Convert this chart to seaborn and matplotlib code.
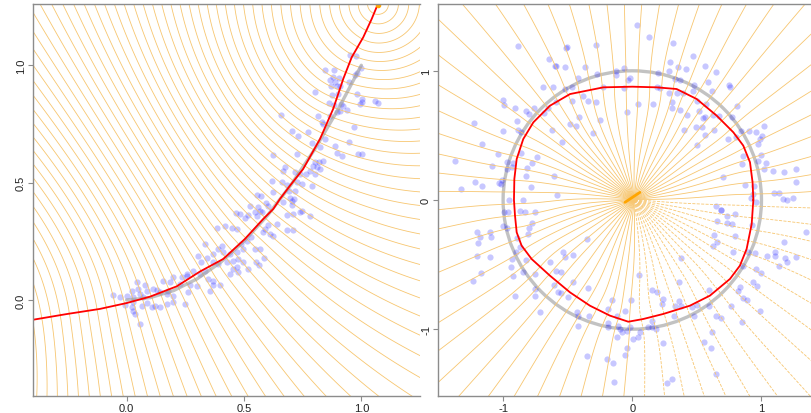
import numpy as np
import matplotlib
matplotlib.use("Agg")
import matplotlib.pyplot as plt
import seaborn as sns
from matplotlib.patches import Circle

# ---------------- LEFT PANEL DATA ----------------
left_x = [0.951,0.977,0.845,0.885,0.998,0.973,0.98,0.947,
          0.866,0.880,0.906,0.888,0.870,0.895,0.909,
          0.802,0.876,0.902,0.98,1.001,1.004,0.994,1.058,1.072,
          0.862,0.885,0.912,0.923,0.897,0.909,0.937,0.657,0.866,0.814,0.831,0.838,0.97,0.706,0.774,0.731,
          0.845,0.948,0.788,0.824,0.888,0.625,0.895,0.916,0.984,1.001,0.728,
          0.802,0.819,0.838,0.795,0.81,0.824,0.781,
          0.674,0.667,0.717,0.738,0.766,0.802,
          0.618,0.66,0.682,0.724,0.746,0.788,
          0.622,0.693,0.717,0.554,0.572,0.696,0.713,0.665,
          0.595,0.603,0.703,0.706,0.746,0.738,0.781,0.682,0.71,
          0.525,0.561,0.568,0.547,0.575,0.554,0.518,0.483,0.504,0.466,
          0.639,0.684,0.707,0.603,0.589,0.582,0.611,0.625,
          0.383,0.419,0.447,0.469,0.511,0.528,0.486,0.497,
          0.547,0.568,0.586,0.551,0.565,
          0.334,0.405,0.39,0.409,0.369,0.44,0.471,
          0.305,0.317,0.341,0.369,0.39,0.426,0.454,0.476,0.497,0.518,0.469,0.454,0.476,0.44,
          0.256,0.284,0.312,0.334,0.348,0.369,0.398,0.355,0.369,
          0.156,0.184,0.199,0.234,0.256,0.227,0.27,0.298,0.262,
          0.043,0.078,0.113,0.085,0.128,0.142,0.17,0.177,0.199,
          -0.057,-0.029,0.0,0.021,0.049,0.057,0.071,0.028,
          0.028,0.064,0.085,0.107,0.121,0.142,0.17,0.199,0.248,
          0.028,0.035,0.057,-0.007,0.021]
left_y = [1.044,1.038,0.98,0.98,0.988,0.959,0.967,0.93,
          0.937,0.951,0.946,0.930,0.911,0.911,0.913,
          0.885,0.875,0.878,0.878,0.856,0.842,0.835,0.849,0.839,
          0.839,0.831,0.834,0.828,0.802,0.807,0.811,0.788,0.785,0.785,0.757,0.75,0.736,0.721,0.717,0.697,
          0.686,0.672,0.669,0.651,0.657,0.619,0.625,0.612,0.621,0.622,0.622,
          0.589,0.587,0.593,0.572,0.565,0.558,0.551,
          0.565,0.551,0.547,0.537,0.537,0.537,
          0.508,0.501,0.49,0.504,0.494,0.487,
          0.461,0.463,0.466,0.447,0.444,0.433,0.43,0.416,
          0.413,0.402,0.423,0.405,0.381,0.374,0.357,0.362,0.366,
          0.399,0.395,0.381,0.376,0.374,0.357,0.362,0.366,0.348,0.369,
          0.324,0.3,0.3,0.32,0.303,0.288,0.281,0.274,
          0.305,0.314,0.305,0.303,0.253,0.267,0.239,0.217,
          0.217,0.217,0.178,0.161,0.15,
          0.239,0.231,0.217,0.203,0.196,0.196,0.203,
          0.186,0.163,0.178,0.161,0.153,0.161,0.167,0.175,0.161,0.132,0.139,0.132,0.118,0.111,
          0.111,0.125,0.111,0.125,0.089,0.082,0.064,0.04,0.064,
          0.082,0.075,0.097,0.097,0.104,0.068,0.064,0.058,0.033,
          0.078,0.064,0.047,0.04,0.044,0.033,0.026,0.04,0.018,
          0.021,0.014,0.018,0.04,0.047,0.026,0.011,0.011,
          -0.01,-0.024,-0.013,-0.031,-0.024,-0.031,-0.017,-0.01,-0.017,
          -0.046,-0.06,-0.102,-0.021,-0.031]

left_curve_x = [-0.398,-0.256,-0.114,0.0,0.099,0.213,0.312,0.412,0.504,0.582,
                0.625,0.653,0.696,0.752,0.824,0.88,0.923,0.959,1.008,1.044,1.069]
left_curve_y = [-0.084,-0.06,-0.038,-0.013,0.014,0.058,0.121,0.175,0.26,0.345,
                0.388,0.43,0.487,0.558,0.686,0.814,0.942,1.034,1.119,1.197,1.257]

left_true_x = [0.0,0.1,0.2,0.3,0.4,0.5,0.6,0.7,0.8,0.9,1.0]
left_true_y = [0.0,0.01,0.04,0.09,0.16,0.25,0.36,0.49,0.64,0.81,1.0]

left_xticks = [0.0, 0.5, 1.0]
left_xlabels = ["0.0", "0.5", "1.0"]
left_yticks = [0.0, 0.5, 1.0]
left_ylabels = ["0.0", "0.5", "1.0"]

# ---------------- RIGHT PANEL DATA ----------------
right_x = [0.034,0.129,-0.882,-0.508,-0.516,-0.281,0.317,0.472,-0.642,-0.599,-0.593,-0.521,-0.366,
           0.292,0.351,0.415,0.286,0.562,0.648,-0.129,-0.062,-0.129,-0.276,-0.423,-0.018,-0.036,0.201,
           0.33,0.369,0.48,0.583,0.748,0.756,-0.694,-0.611,-0.521,-0.47,-0.224,-0.064,0.188,0.214,
           0.286,0.343,0.395,0.467,0.614,-0.379,-0.346,-0.464,-0.998,-0.991,-0.593,-0.281,0.498,0.57,
           0.808,0.304,0.304,0.044,0.157,-0.044,-0.908,-0.823,-0.759,-0.8,-0.655,-0.681,-0.41,-0.25,
           0.369,0.421,0.516,0.55,0.562,0.627,0.673,0.769,-1.225,-0.895,-0.482,-0.439,0.493,0.537,
           0.632,0.4,-1.004,-0.882,-0.862,-0.624,-0.302,0.562,0.841,0.906,0.957,1.022,0.743,0.802,
           1.001,0.975,0.988,-1.161,-0.547,0.498,-1.037,-0.862,-0.74,0.993,0.859,0.975,1.035,1.019,
           0.846,1.086,1.176,1.264,1.267,-1.373,-1.089,-0.973,-0.926,-0.934,-0.973,-0.774,-0.813,
           -0.823,-0.606,0.699,-1.011,-1.019,-1.032,-1.218,-1.166,-1.329,-0.784,-0.586,-0.955,-0.849,
           0.872,0.944,0.937,0.916,0.957,1.099,1.138,1.164,1.2,1.246,0.648,0.684,
           0.686,0.73,0.795,0.769,0.73,0.653,0.924,1.342,-0.991,-0.965,-0.998,-0.967,
           -0.869,-0.831,-0.753,-0.797,-0.805,-0.779,-1.205,-1.179,-1.102,-1.097,-1.195,-0.895,-0.353,
           0.632,0.653,0.627,0.795,0.777,1.174,-0.9,-0.869,-0.826,-0.934,-0.939,-0.921,-1.205,-1.102,
           -0.637,-0.534,-0.521,-0.457,-0.753,-0.844,-0.593,-0.552,-1.171,-1.231,-0.462,-0.606,-0.573,
           -0.552,-0.495,-0.753,-0.753,-0.908,-0.346,-0.715,-0.431,-0.423,-0.418,-0.335,-0.353,-0.199,
           -0.147,-0.142,-0.186,-0.155,-0.116,-0.186,-0.186,-0.057,-0.01,-0.018,-0.108,-0.095,-0.083,
           -0.039,-0.121,-0.044,-0.057,0.008,0.046,0.059,0.119,0.15,0.183,0.15,0.052,0.155,0.193,
           0.232,0.24,0.24,0.364,0.377,0.364,0.33,0.374,0.325,0.459,0.48,0.498,0.593,0.593,0.645,
           0.686,0.764,0.851,0.614,0.555,0.609,0.648,0.266,0.304,0.833,0.82,0.859,0.885,0.937,0.962,
           0.988,0.996,0.955,0.859,0.898,0.949,1.045,1.104,1.104,1.138,1.182,1.2,1.264]
right_y = [1.355,1.264,1.195,1.182,1.176,1.2,1.213,1.112,1.091,1.04,1.035,1.027,1.032,
           1.071,1.027,1.014,1.001,1.035,0.993,1.001,1.022,0.967,0.975,0.942,0.942,0.929,0.983,
           0.937,0.929,0.89,0.916,0.89,0.877,0.872,0.872,0.859,0.872,0.872,0.864,0.872,0.864,
           0.826,0.826,0.828,0.846,0.846,0.807,0.769,0.769,0.774,0.735,0.756,0.761,0.769,0.743,
           0.73,0.761,0.712,0.74,0.74,0.684,0.709,0.691,0.709,0.666,0.712,0.671,0.645,0.619,
           0.697,0.658,0.691,0.632,0.64,0.658,0.653,0.64,0.596,0.614,0.588,0.575,0.562,0.562,
           0.544,0.542,0.537,0.542,0.524,0.542,0.516,0.503,0.531,0.531,0.524,0.575,0.472,0.485,
           0.493,0.433,0.472,0.433,0.451,0.428,0.356,0.364,0.335,0.348,0.338,0.304,0.286,0.24,
           0.279,0.222,0.214,0.24,0.142,0.299,0.261,0.292,0.286,0.253,0.24,0.286,0.245,
           0.188,0.183,0.175,0.155,0.124,0.132,0.137,0.111,0.085,0.098,0.041,0.0,0.0,
           0.116,0.111,0.046,0.013,-0.018,0.054,0.052,0.008,0.0,0.013,-0.049,-0.075,
           -0.077,-0.121,-0.108,-0.186,-0.178,-0.165,-0.191,-0.25,-0.095,-0.09,-0.199,-0.219,
           -0.082,-0.095,-0.095,-0.219,-0.263,-0.178,-0.245,-0.284,-0.25,-0.284,-0.335,-0.297,-0.302,
           -0.268,-0.328,-0.359,-0.281,-0.4,-0.322,-0.405,-0.361,-0.464,-0.457,-0.516,-0.586,-0.436,-0.439,
           -0.477,-0.405,-0.444,-0.426,-0.573,-0.555,-0.547,-0.56,-0.565,-0.624,-0.632,-0.655,-0.709,
           -0.72,-0.748,-0.689,-0.74,-0.746,-0.681,-0.864,-0.869,-0.9,-0.973,-0.9,-1.21,-1.23,
           -1.264,-1.406,-0.844,-0.774,-0.9,-0.952,-0.985,-0.857,-0.774,-0.985,-0.973,-1.0,-1.024,
           -1.011,-1.063,-1.145,-1.2,-1.076,-1.063,-1.019,-0.98,-0.985,-0.998,-0.934,-0.58,-0.694,-0.715,
           -0.805,-0.766,-1.107,-0.637,-0.451,-0.779,-0.823,-0.823,-0.9,-0.831,-0.895,-0.813,-0.697,-0.818,-0.895,
           -0.916,-0.818,-0.947,-1.024,-1.102,-1.145,-1.347,-1.419,-1.385,-0.671,-0.702,-0.758,-0.774,-0.632,-0.668,
           -0.857,-0.568,-0.534,-0.508,-0.405,-0.413,-0.436,-0.405,-0.436,-0.513,-0.451,-0.477,-0.444]

right_curve_x = [0.937,0.931,0.911,0.859,0.782,0.653,0.498,0.343,0.188,0.0,-0.224,-0.482,
                 -0.637,-0.766,-0.844,-0.895,-0.913,-0.916,-0.908,-0.895,-0.857,-0.779,-0.637,
                 -0.482,-0.328,-0.173,-0.031,0.085,0.24,0.446,0.601,0.756,0.833,0.885,0.924]
right_curve_y = [0.0,0.137,0.292,0.421,0.524,0.653,0.782,0.859,0.872,0.877,0.872,0.82,
                 0.73,0.601,0.472,0.317,0.163,0.0,-0.121,-0.25,-0.353,-0.457,-0.586,
                 -0.715,-0.818,-0.895,-0.942,-0.921,-0.882,-0.818,-0.74,-0.611,-0.508,-0.379,-0.186]

right_true_radius = 1.0
center_seg_x = [-0.057, 0.059]
center_seg_y = [-0.018, 0.059]

right_xticks = [-1, 0, 1]
right_xlabels = ["-1", "0", "1"]
right_yticks = [-1, 0, 1]
right_ylabels = ["-1", "0", "1"]

n_left_levels = 64
n_right_levels = 64

# ---------------- helpers ----------------
def resample(P, n, closed=False):
    P = np.asarray(P, dtype=float)
    if closed:
        P = np.vstack([P, P[:1]])
    seg = np.hypot(*np.diff(P, axis=0).T)
    s = np.concatenate([[0.0], np.cumsum(seg)])
    t = np.linspace(0, s[-1], n, endpoint=not closed)
    return np.column_stack([np.interp(t, s, P[:, 0]), np.interp(t, s, P[:, 1])]), t, s[-1]


def idw_project(GX, GY, C, vals, p):
    out = np.zeros(GX.shape + (vals.shape[1],))
    for i in range(GX.shape[0]):
        d2 = (GX[i, :, None] - C[None, :, 0]) ** 2 + (GY[i, :, None] - C[None, :, 1]) ** 2
        w = (d2 + 1e-7) ** (-p / 2.0)
        w = w / w.max(axis=1, keepdims=True)
        out[i] = (w @ vals) / w.sum(axis=1, keepdims=True)
    return out

# ---------------- figure ----------------
sns.set_style("white")
plt.rcParams['font.family'] = ['Liberation Sans', 'DejaVu Sans']
plt.rcParams['axes.unicode_minus'] = False

W, H = 812, 414
fig = plt.figure(figsize=(W / 100, H / 100), dpi=100)

def px_axes(x0, y0, x1, y1):
    return fig.add_axes([x0 / W, 1 - y1 / H, (x1 - x0) / W, (y1 - y0) / H])

axL = px_axes(33, 5, 420, 397)
axR = px_axes(438, 5, 812, 397)

orange_line = "#F7C670"
orange_lw = 0.6

# ---- left panel ----
xlimL = (-0.399, 1.250)
ylimL = (-0.409, 1.261)
# the fitted curve continues past the left frame: extend it along its first segment for the field
P = np.column_stack([left_curve_x, left_curve_y])
d0 = P[0] - P[1]
d0 = d0 / np.hypot(*d0)
P_ext = np.vstack([P[0] + 0.8 * d0, P])
Cl, sl, Ll = resample(P_ext, 320)
gx = np.linspace(xlimL[0] - 0.02, xlimL[1] + 0.02, 300)
gy = np.linspace(ylimL[0] - 0.02, ylimL[1] + 0.02, 300)
GX, GY = np.meshgrid(gx, gy)
lam = idw_project(GX, GY, Cl, sl[:, None], 3.0)[..., 0]
levL = np.linspace(0.4, Ll, n_left_levels + 1)[:-1]
axL.contour(GX, GY, lam, levels=levL, colors=orange_line, linewidths=orange_lw)

sns.lineplot(x=left_true_x, y=left_true_y, sort=False, estimator=None, ax=axL,
             color="#9a9a9a", alpha=0.6, linewidth=2.4)
sns.scatterplot(x=left_x, y=left_y, ax=axL, color="blue", alpha=0.22, s=20, linewidth=0)
sns.lineplot(x=left_curve_x, y=left_curve_y, sort=False, estimator=None, ax=axL,
             color="red", linewidth=1.3)
axL.plot(left_curve_x[-1:], left_curve_y[-1:], "o", color="orange", ms=3)

axL.set_xlim(*xlimL)
axL.set_ylim(*ylimL)
axL.set_xticks(left_xticks, left_xlabels)
axL.set_yticks(left_yticks, left_ylabels)

# ---- right panel ----
xlimR = (-1.504, 1.391)
ylimR = (-1.517, 1.517)
Cr, sr, Lr = resample(np.column_stack([right_curve_x, right_curve_y]), 300, closed=True)
phi = 2 * np.pi * sr / Lr
vals = np.column_stack([np.cos(phi), np.sin(phi)])
gx = np.linspace(xlimR[0] - 0.03, xlimR[1] + 0.03, 320)
gy = np.linspace(ylimR[0] - 0.03, ylimR[1] + 0.03, 320)
GX, GY = np.meshgrid(gx, gy)
V = idw_project(GX, GY, Cr, vals, 4.0)
A = np.arctan2(V[..., 1], V[..., 0])
levels_all = -np.pi + (np.arange(n_right_levels) + 0.5) * 2 * np.pi / n_right_levels
lev1 = levels_all[np.abs(levels_all) < np.pi / 2]
lev2 = np.sort(np.mod(levels_all[np.abs(levels_all) >= np.pi / 2], 2 * np.pi))
F1 = np.ma.masked_where(np.abs(A) > 0.8 * np.pi, A)
A2 = np.mod(A, 2 * np.pi)
F2 = np.ma.masked_where((A2 < 0.2 * np.pi) | (A2 > 1.8 * np.pi), A2)
axR.contour(GX, GY, F1, levels=lev1, colors=orange_line, linewidths=orange_lw)
axR.contour(GX, GY, F2, levels=lev2, colors=orange_line, linewidths=orange_lw)
axR.plot(center_seg_x, center_seg_y, color="orange", linewidth=2.0, solid_capstyle="round")

axR.add_patch(Circle((0, 0), right_true_radius, fill=False, edgecolor="#9a9a9a",
                     alpha=0.6, linewidth=2.4))
sns.scatterplot(x=right_x, y=right_y, ax=axR, color="blue", alpha=0.22, s=20, linewidth=0)
closed_x = list(right_curve_x) + [right_curve_x[0]]
closed_y = list(right_curve_y) + [right_curve_y[0]]
sns.lineplot(x=closed_x, y=closed_y, sort=False, estimator=None, ax=axR,
             color="red", linewidth=1.3)

axR.set_xlim(*xlimR)
axR.set_ylim(*ylimR)
axR.set_xticks(right_xticks, right_xlabels)
axR.set_yticks(right_yticks, right_ylabels)

for ax in (axL, axR):
    ax.set_xlabel("")
    ax.set_ylabel("")
    for side in ("left", "top", "bottom"):
        ax.spines[side].set_visible(True)
        ax.spines[side].set_color("#8c8c8c")
        ax.spines[side].set_linewidth(1.0)
    ax.spines["right"].set_visible(False)
    ax.tick_params(axis="both", direction="out", length=3.5, width=0.8, color="#8c8c8c",
                   labelsize=8, labelcolor="#222222", pad=1.5, bottom=True, left=True)
    for lab in ax.get_yticklabels():
        lab.set_rotation(90)
        lab.set_va("center")
    ax.set_facecolor("white")

fig.savefig("out.png", dpi=100, facecolor="white")
